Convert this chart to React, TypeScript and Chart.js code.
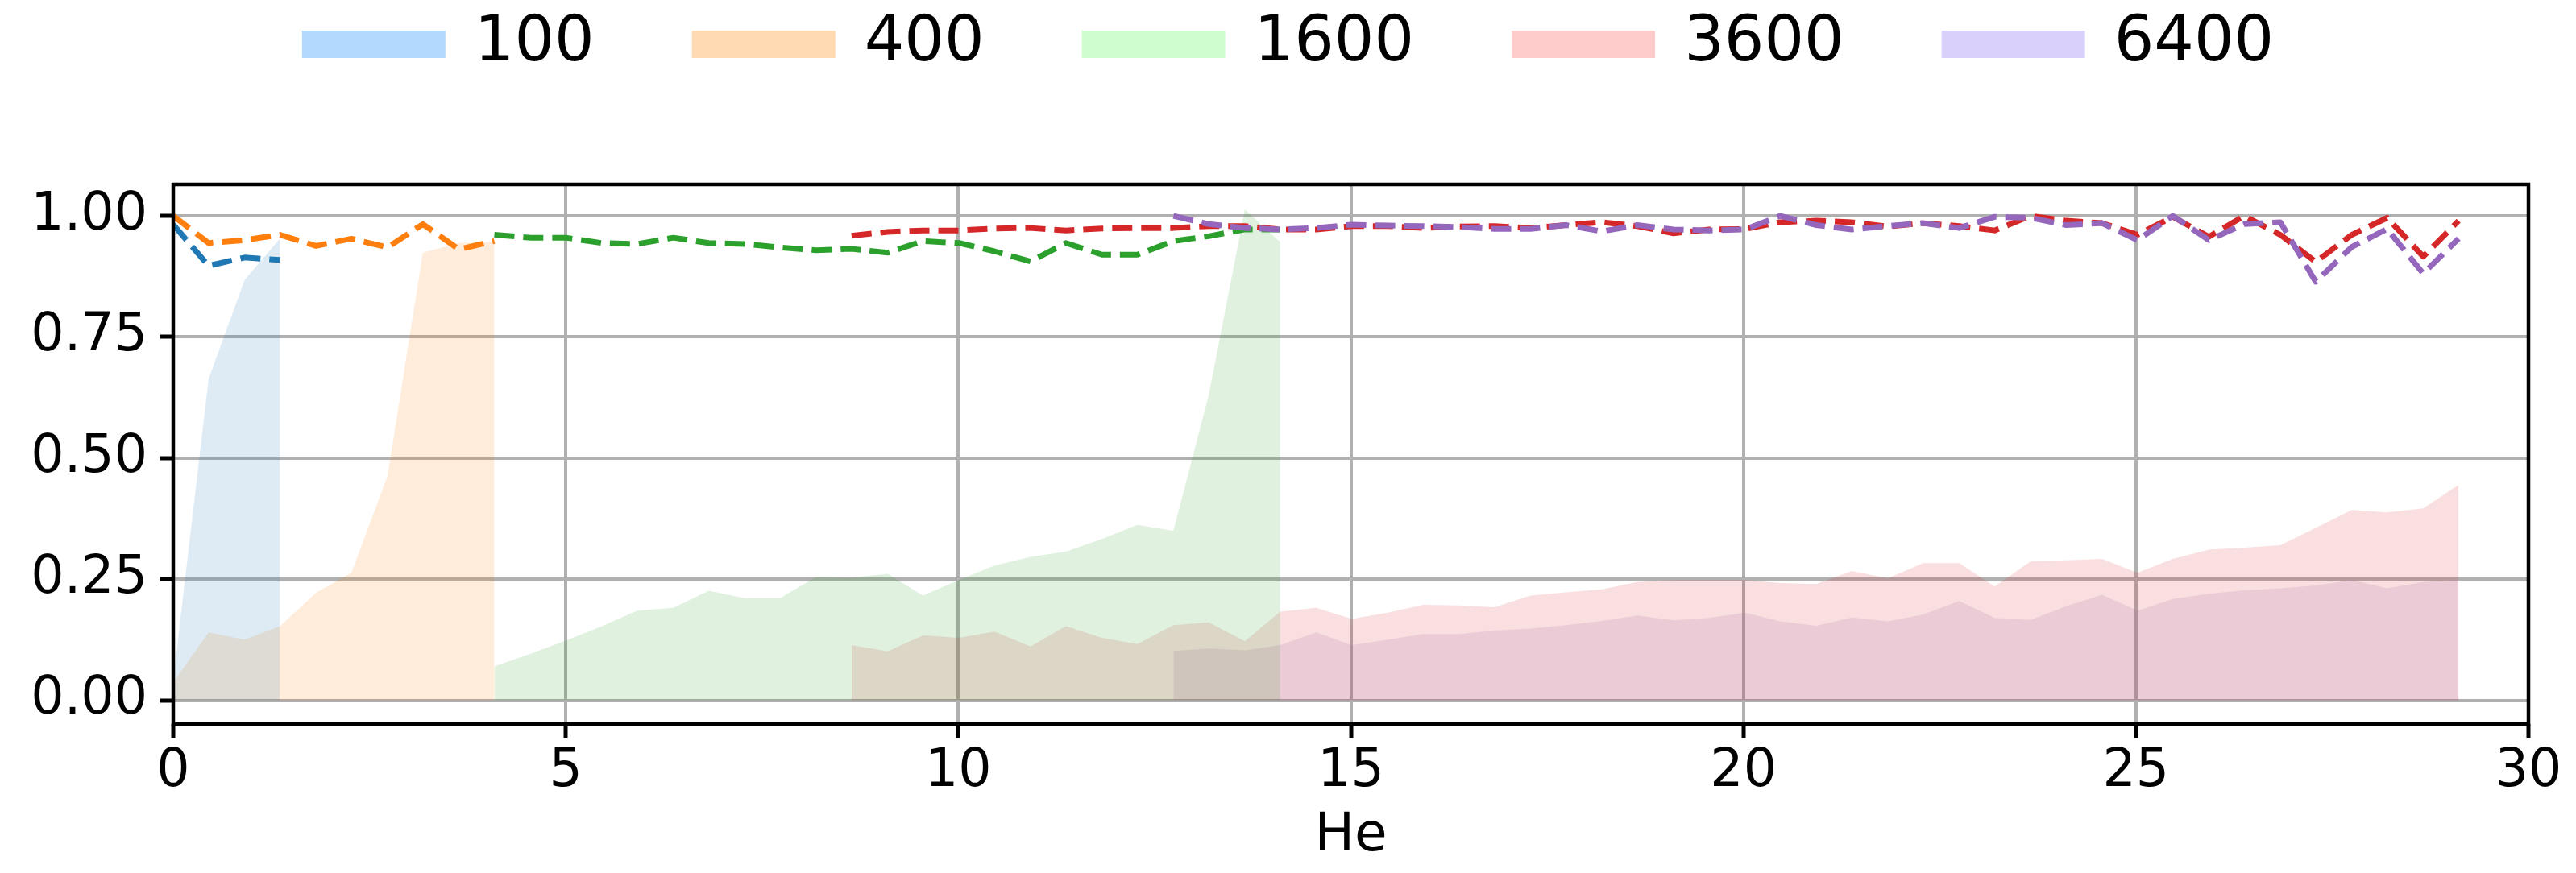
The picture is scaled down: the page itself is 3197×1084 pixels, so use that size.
// He 에 따른 크기별 정확도(점선)와 비율(면적) 차트
import React, { useEffect, useRef } from 'react';
import Chart from 'chart.js/auto';

// x축 He 격자
const HE = [
  0, 0.45, 0.91, 1.36, 1.82, 2.27, 2.73, 3.18, 3.64, 4.09,
  4.55, 5.0, 5.46, 5.91, 6.37, 6.82, 7.28, 7.73, 8.19, 8.64,
  9.1, 9.55, 10.01, 10.46, 10.92, 11.37, 11.83, 12.28, 12.74, 13.19,
  13.65, 14.1, 14.56, 15.01, 15.47, 15.92, 16.38, 16.83, 17.29, 17.74,
  18.2, 18.65, 19.11, 19.56, 20.02, 20.47, 20.93, 21.38, 21.84, 22.29,
  22.75, 23.2, 23.66, 24.11, 24.57, 25.02, 25.47, 25.93, 26.38, 26.84,
  27.29, 27.75, 28.2, 28.66, 29.11,
];

const SIZES = [100, 400, 1600, 3600, 6400];
// 각 시리즈가 시작하는 HE 인덱스
const START = [0, 0, 9, 19, 28];

const LINE_100 = [0.982, 0.897, 0.914, 0.909];
const FILL_100 = [0.042, 0.663, 0.868, 0.953];

const LINE_400 = [1.0, 0.944, 0.95, 0.961, 0.938, 0.953, 0.935, 0.983, 0.931, 0.948];
const FILL_400 = [0.037, 0.14, 0.125, 0.153, 0.222, 0.263, 0.463, 0.924, 0.944, 0.946];

const LINE_1600 = [
  0.961, 0.955, 0.955, 0.944, 0.942, 0.955, 0.944, 0.942, 0.935, 0.929,
  0.932, 0.924, 0.948, 0.944, 0.927, 0.906, 0.944, 0.92, 0.92, 0.948,
  0.958, 0.972, 0.972,
];
const FILL_1600 = [
  0.07, 0.096, 0.123, 0.153, 0.185, 0.191, 0.226, 0.211, 0.211, 0.255,
  0.253, 0.261, 0.216, 0.248, 0.278, 0.296, 0.307, 0.333, 0.362, 0.35,
  0.63, 1.013, 0.946,
];

const LINE_3600 = [
  0.959, 0.967, 0.97, 0.97, 0.974, 0.975, 0.97, 0.974, 0.975, 0.975,
  0.979, 0.979, 0.972, 0.972, 0.979, 0.979, 0.975, 0.978, 0.979, 0.975,
  0.981, 0.987, 0.979, 0.964, 0.972, 0.973, 0.987, 0.99, 0.987, 0.978,
  0.985, 0.979, 0.97, 1.0, 0.99, 0.985, 0.961, 0.998, 0.957, 1.0,
  0.961, 0.905, 0.961, 0.996, 0.916, 0.99,
];
const FILL_3600 = [
  0.114, 0.101, 0.134, 0.129, 0.142, 0.111, 0.153, 0.129, 0.116, 0.155,
  0.161, 0.122, 0.183, 0.191, 0.168, 0.181, 0.197, 0.196, 0.192, 0.216,
  0.223, 0.229, 0.244, 0.248, 0.248, 0.248, 0.242, 0.24, 0.267, 0.252,
  0.283, 0.283, 0.235, 0.287, 0.289, 0.292, 0.263, 0.292, 0.311, 0.315,
  0.32, 0.356, 0.393, 0.388, 0.396, 0.445,
];

const LINE_6400 = [
  1.0, 0.983, 0.975, 0.972, 0.975, 0.982, 0.98, 0.979, 0.977, 0.973,
  0.973, 0.981, 0.968, 0.981, 0.972, 0.97, 0.972, 1.0, 0.981, 0.972,
  0.979, 0.985, 0.975, 0.998, 0.996, 0.981, 0.985, 0.95, 1.0, 0.95,
  0.983, 0.987, 0.864, 0.936, 0.973, 0.881, 0.953,
];
const FILL_6400 = [
  0.102, 0.107, 0.103, 0.114, 0.14, 0.114, 0.125, 0.137, 0.137, 0.144,
  0.148, 0.155, 0.164, 0.175, 0.165, 0.17, 0.181, 0.163, 0.154, 0.171,
  0.163, 0.177, 0.205, 0.17, 0.166, 0.194, 0.218, 0.185, 0.209, 0.22,
  0.227, 0.231, 0.237, 0.248, 0.231, 0.244, 0.248,
];

const LINES = [LINE_100, LINE_400, LINE_1600, LINE_3600, LINE_6400];
const FILLS = [FILL_100, FILL_400, FILL_1600, FILL_3600, FILL_6400];

const X_TICKS = [0, 5, 10, 15, 20, 25, 30];
const Y_TICKS = [0, 0.25, 0.5, 0.75, 1.0];

// matplotlib tab10
const COLORS = ['#1f77b4', '#ff7f0e', '#2ca02c', '#d62728', '#9467bd'];
const FILL_COLORS = [
  'rgba(31,119,180,0.15)',
  'rgba(255,127,14,0.15)',
  'rgba(44,160,44,0.15)',
  'rgba(214,39,40,0.15)',
  'rgba(148,103,189,0.15)',
];
const PATCH_COLORS = ['#b3d9ff', '#ffdab3', '#d0fdd0', '#ffcccc', '#d9d0fc'];

const FONT = 'DejaVu Sans';

const toPoints = (values: number[], start: number) =>
  values.map((v, k) => ({ x: HE[start + k], y: v }));

// 상단 범례 (패치 + 라벨)
const patchLegend = {
  id: 'patchLegend',
  afterDraw(chart: Chart) {
    const ctx = chart.ctx;
    const boxW = 178;
    const boxH = 34;
    const textGap = 36;
    const itemGap = 121;
    const cy = 55;
    ctx.save();
    ctx.font = `78px "${FONT}"`;
    ctx.textBaseline = 'middle';
    ctx.textAlign = 'left';
    const widths = SIZES.map((s) => boxW + textGap + ctx.measureText(String(s)).width);
    const total = widths.reduce((a, b) => a + b, 0) + itemGap * (SIZES.length - 1);
    let x = (chart.width - total) / 2;
    SIZES.forEach((s, i) => {
      ctx.fillStyle = PATCH_COLORS[i];
      ctx.fillRect(x, cy - boxH / 2, boxW, boxH);
      ctx.fillStyle = '#000';
      ctx.fillText(String(s), x + boxW + textGap, cy);
      x += widths[i] + itemGap;
    });
    ctx.restore();
  },
};

// 축 테두리
const frame = {
  id: 'frame',
  afterDatasetsDraw(chart: Chart) {
    const { ctx, chartArea } = chart;
    ctx.save();
    ctx.strokeStyle = '#000';
    ctx.lineWidth = 4.5;
    ctx.strokeRect(chartArea.left, chartArea.top, chartArea.right - chartArea.left, chartArea.bottom - chartArea.top);
    ctx.restore();
  },
};

const App: React.FC = () => {
  const canvasRef = useRef<HTMLCanvasElement>(null);

  useEffect(() => {
    if (!canvasRef.current) return;

    const fillSets = SIZES.map((s, i) => ({
      label: `${s} area`,
      data: toPoints(FILLS[i], START[i]),
      fill: 'origin',
      backgroundColor: FILL_COLORS[i],
      borderColor: 'rgba(0,0,0,0)',
      borderWidth: 0,
      pointRadius: 0,
      tension: 0,
      order: 10,
    }));

    const lineSets = SIZES.map((s, i) => ({
      label: String(s),
      data: toPoints(LINES[i], START[i]),
      fill: false,
      borderColor: COLORS[i],
      borderWidth: 7,
      borderDash: [25, 11],
      borderCapStyle: 'butt',
      borderJoinStyle: 'round',
      pointRadius: 0,
      tension: 0,
      order: 5 - i,
    }));

    const chart = new Chart(canvasRef.current, {
      type: 'line',
      data: { datasets: [...fillSets, ...lineSets] as any },
      plugins: [patchLegend, frame],
      options: {
        animation: false,
        responsive: true,
        maintainAspectRatio: false,
        layout: { padding: { top: 229, right: 59, left: 0, bottom: 0 } },
        plugins: {
          legend: { display: false },
          tooltip: { enabled: false },
        },
        scales: {
          x: {
            type: 'linear',
            min: 0,
            max: 30,
            afterBuildTicks: (scale: any) => {
              scale.ticks = X_TICKS.map((v) => ({ value: v }));
            },
            afterFit: (scale: any) => {
              scale.height = 185;
            },
            border: { display: false },
            grid: {
              color: '#b0b0b0',
              lineWidth: 4,
              tickColor: '#000',
              tickWidth: 5,
              tickLength: 17,
            },
            ticks: {
              color: '#000',
              font: { family: FONT, size: 65 },
              padding: 4,
              maxRotation: 0,
              callback: (v: any) => String(v),
            },
            title: {
              display: true,
              text: 'He',
              color: '#000',
              font: { family: FONT, size: 66, lineHeight: 1.2 },
              padding: { top: 0, bottom: 6 },
            },
          },
          y: {
            type: 'linear',
            min: -0.049,
            max: 1.065,
            afterBuildTicks: (scale: any) => {
              scale.ticks = Y_TICKS.map((v) => ({ value: v }));
            },
            afterFit: (scale: any) => {
              scale.width = 215;
            },
            border: { display: false },
            grid: {
              color: '#b0b0b0',
              lineWidth: 4,
              tickColor: '#000',
              tickWidth: 5,
              tickLength: 16,
            },
            ticks: {
              color: '#000',
              font: { family: FONT, size: 65 },
              padding: 16,
              callback: (v: any) => Number(v).toFixed(2),
            },
          },
        },
      },
    });

    return () => {
      chart.destroy();
    };
  }, []);

  return (
    <div style={{ position: 'absolute', left: 0, top: 0, width: 3197, height: 1084, background: '#fff' }}>
      <canvas ref={canvasRef} />
    </div>
  );
};

export default App;
